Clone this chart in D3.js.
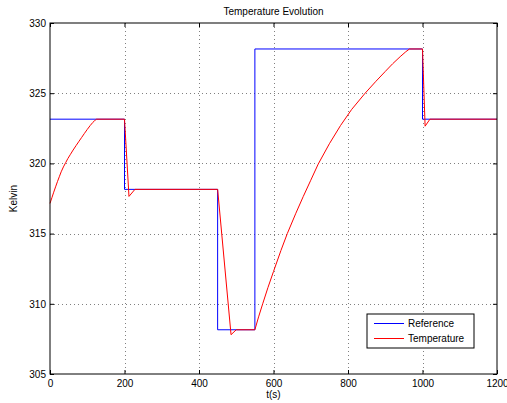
<!DOCTYPE html>
<html>
<head>
<meta charset="utf-8">
<script src="https://cdn.jsdelivr.net/npm/d3@7"></script>
<style>
    body { margin: 0; background: #fff; }
    text { font-family: "Liberation Sans", Arial, sans-serif; font-size: 10px; fill: #000; }
</style>
</head>
<body>
<div id="chart"></div>
<script>

var w = 507,
    h = 403;

// reference setpoint (step function)
var ref_t = [0, 200, 450, 550, 1000, 1200],
    ref_k = [323.15, 318.15, 308.15, 328.15, 323.15, 323.15];

// measured temperature
var temp_t = [0, 5, 10, 15, 20, 25, 30, 36, 42, 48, 55, 62, 70, 78, 85, 92, 100, 108, 115, 120, 125,
              200, 212, 228,
              450, 486, 500,
              550, 560, 571, 585, 600, 620, 637, 660, 680, 700, 720,
              750, 780, 810, 846, 875, 900, 920, 940, 955, 965,
              1000, 1007, 1020, 1200],
    temp_k = [317.15, 317.55, 317.95, 318.33, 318.7, 319.05, 319.4, 319.75, 320.05, 320.35, 320.65,
              320.95, 321.27, 321.58, 321.85, 322.12, 322.42, 322.7, 322.92, 323.05, 323.15,
              323.15, 317.65, 318.15,
              318.15, 307.8, 308.15,
              308.15, 309.07, 310.0, 311.15, 312.3, 313.8, 315.0, 316.45, 317.65, 318.8, 319.95,
              321.4, 322.7, 323.85, 325.0, 325.85, 326.55, 327.1, 327.6, 327.95, 328.15,
              328.15, 322.65, 323.15, 323.15];

// axis ticks
var x_ticks = [0, 200, 400, 600, 800, 1000, 1200],
    y_ticks = [305, 310, 315, 320, 325, 330];

var series_names = ["Reference", "Temperature"],
    series_colors = ["#0000ff", "#ff0000"];

// plot box (window.top is reserved, so use other names)
var px0 = 50, px1 = 497, py0 = 23, py1 = 374;

var svg = d3.select("#chart").append("svg")
    .attr("width", w)
    .attr("height", h);

// scales
var x = d3.scaleLinear()
        .domain([0, 1200])
        .range([px0, px1]),
    y = d3.scaleLinear()
        .domain([305, 330])
        .range([py1, py0]);

// dotted grid
var grid = svg.append("g")
    .attr("stroke", "#808080")
    .attr("stroke-width", 1)
    .attr("stroke-dasharray", "1,3");

x_ticks.slice(1, -1).forEach(function(t) {
    grid.append("line")
        .attr("x1", Math.round(x(t)) + 0.5)
        .attr("x2", Math.round(x(t)) + 0.5)
        .attr("y1", py0)
        .attr("y2", py1);
});

y_ticks.slice(1, -1).forEach(function(k) {
    grid.append("line")
        .attr("x1", px0)
        .attr("x2", px1)
        .attr("y1", Math.round(y(k)) + 0.5)
        .attr("y2", Math.round(y(k)) + 0.5);
});

// data lines
var refline = d3.line()
    .x(function(d, i) { return x(ref_t[i]); })
    .y(function(d) { return y(d); })
    .curve(d3.curveStepAfter);

var templine = d3.line()
    .x(function(d, i) { return x(temp_t[i]); })
    .y(function(d) { return y(d); });

svg.append("path")
    .attr("d", refline(ref_k))
    .attr("fill", "none")
    .attr("stroke", series_colors[0])
    .attr("stroke-width", 1);

svg.append("path")
    .attr("d", templine(temp_k))
    .attr("fill", "none")
    .attr("stroke", series_colors[1])
    .attr("stroke-width", 1);

// axes with inward ticks on all sides
var fmt = d3.format("d");
var xb = d3.axisBottom(x).tickValues(x_ticks).tickSize(-4).tickPadding(6).tickFormat(fmt),
    xt = d3.axisTop(x).tickValues(x_ticks).tickSize(-4).tickFormat(""),
    yl = d3.axisLeft(y).tickValues(y_ticks).tickSize(-4).tickPadding(4).tickFormat(fmt),
    yr = d3.axisRight(y).tickValues(y_ticks).tickSize(-4).tickFormat("");

[[xb, "translate(0," + py1 + ")"],
 [xt, "translate(0," + py0 + ")"],
 [yl, "translate(" + px0 + ",0)"],
 [yr, "translate(" + px1 + ",0)"]].forEach(function(a) {
    var g = svg.append("g")
        .attr("transform", a[1])
        .call(a[0]);
    g.select(".domain").remove();
    g.selectAll("line").attr("stroke", "#000");
    g.selectAll("text")
        .attr("font-family", "Liberation Sans, Arial, sans-serif")
        .attr("font-size", 10)
        .attr("fill", "#000");
});

// frame
svg.append("rect")
    .attr("x", px0)
    .attr("y", py0)
    .attr("width", px1 - px0)
    .attr("height", py1 - py0)
    .attr("fill", "none")
    .attr("stroke", "#000")
    .attr("stroke-width", 1);

// title and axis labels
svg.append("text")
    .attr("x", (px0 + px1) / 2)
    .attr("y", 15)
    .attr("text-anchor", "middle")
    .text("Temperature Evolution");

svg.append("text")
    .attr("x", (px0 + px1) / 2)
    .attr("y", 398)
    .attr("text-anchor", "middle")
    .text("t(s)");

svg.append("text")
    .attr("transform", "translate(17," + (py0 + py1) / 2 + ") rotate(-90)")
    .attr("text-anchor", "middle")
    .text("Kelvin");

// legend
var legend = svg.append("g")
    .attr("transform", "translate(367, 314)");

legend.append("rect")
    .attr("width", 107)
    .attr("height", 34)
    .attr("fill", "#fff")
    .attr("stroke", "#000");

series_names.forEach(function(name, i) {
    legend.append("line")
        .attr("x1", 7)
        .attr("x2", 37)
        .attr("y1", 9.5 + i * 15)
        .attr("y2", 9.5 + i * 15)
        .attr("stroke", series_colors[i]);

    legend.append("text")
        .attr("x", 41)
        .attr("y", 13 + i * 15)
        .text(name);
});

</script>
</body>
</html>
